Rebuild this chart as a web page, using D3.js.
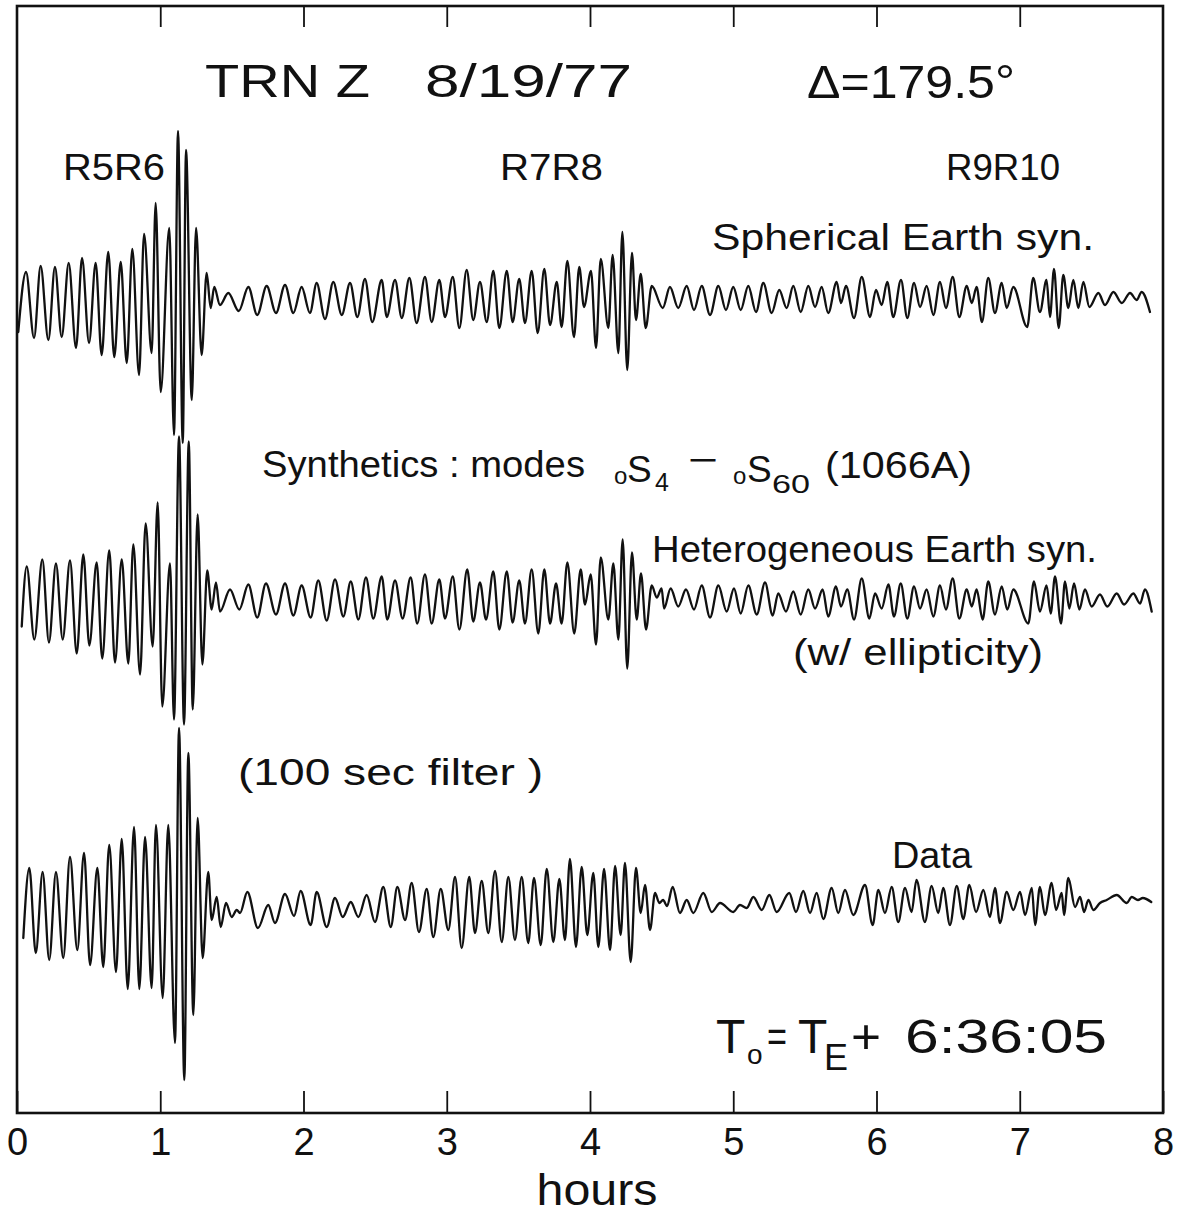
<!DOCTYPE html>
<html><head><meta charset="utf-8">
<script src="https://cdn.jsdelivr.net/npm/d3@7"></script>
<style>
body{margin:0;background:#fff}
svg{display:block}
text{font-family:"Liberation Sans",Arial,sans-serif;fill:#111}
</style>
</head><body>
<svg id="chart" width="1180" height="1213"></svg>
<script>
// ---------- data ----------
const hourTicks = [0,1,2,3,4,5,6,7,8];
const innerTicks = [1,2,3,4,5,6,7];
const traceNames = ["spherical","heterogeneous","data"];
const phaseLabels = ["R5R6","R7R8","R9R10"];

// [time (hours), relative amplitude] at successive extrema
const spherical = [
[0.009,-29],[0.063,31],[0.119,-35],[0.165,37],[0.219,-37],[0.265,36],[0.312,-34],[0.361,40],[0.412,-45],[0.454,45],
[0.503,-40],[0.549,40],[0.591,-52],[0.637,51],[0.679,-54],[0.724,41],[0.766,-60],[0.805,54],[0.852,-72],[0.887,69],
[0.940,-50],[0.968,100],[1.003,-89],[1.063,75],[1.096,-132],[1.124,172],[1.157,-140],[1.180,153],[1.220,-97],[1.250,75],
[1.289,-52],[1.324,30],[1.352,-5],[1.377,16],[1.417,-2],[1.475,10],[1.548,-8],[1.615,16],[1.677,-12],[1.743,17],
[1.808,-10],[1.871,18],[1.929,-10],[1.987,16],[2.045,-10],[2.092,20],[2.150,-16],[2.208,21],[2.267,-12],[2.325,20],
[2.376,-14],[2.429,24],[2.480,-19],[2.546,23],[2.581,-14],[2.639,23],[2.686,-15],[2.739,25],[2.790,-20],[2.848,26],
[2.895,-19],[2.948,23],[2.988,-14],[3.042,26],[3.088,-25],[3.139,33],[3.185,-17],[3.232,21],[3.279,-19],[3.325,32],
[3.367,-25],[3.419,32],[3.460,-19],[3.506,24],[3.546,-20],[3.593,32],[3.635,-30],[3.681,34],[3.721,-22],[3.768,21],
[3.802,-24],[3.842,42],[3.888,-34],[3.925,36],[3.958,-4],[4.007,32],[4.042,-45],[4.075,44],[4.128,-25],[4.158,48],
[4.198,-50],[4.226,71],[4.260,-67],[4.293,50],[4.321,-17],[4.354,29],[4.389,-25],[4.431,17],[4.508,-5],[4.558,16],
[4.616,-5],[4.675,17],[4.726,-7],[4.780,17],[4.838,-12],[4.896,17],[4.949,-7],[5.000,16],[5.052,-7],[5.105,17],
[5.159,-9],[5.210,20],[5.268,-10],[5.321,13],[5.373,-5],[5.419,17],[5.471,-9],[5.524,17],[5.571,-4],[5.617,16],
[5.663,-10],[5.722,21],[5.752,0],[5.787,17],[5.843,-15],[5.897,26],[5.955,-14],[5.996,13],[6.036,-2],[6.075,21],
[6.117,-14],[6.171,23],[6.215,-15],[6.262,20],[6.304,-4],[6.350,17],[6.397,-12],[6.443,21],[6.485,-5],[6.532,26],
[6.578,-14],[6.630,17],[6.665,0],[6.699,16],[6.736,-19],[6.780,25],[6.827,-10],[6.874,20],[6.909,-5],[6.955,16],
[7.052,-24],[7.094,25],[7.141,-9],[7.187,23],[7.211,-14],[7.239,34],[7.272,-25],[7.304,28],[7.339,-5],[7.374,23],
[7.409,-5],[7.444,21],[7.486,-4],[7.549,10],[7.595,-2],[7.654,11],[7.712,0],[7.770,10],[7.816,3],[7.851,11],[7.909,-9]
];

const heterogeneous = [
[0.033,-26],[0.068,34],[0.121,-39],[0.177,41],[0.223,-42],[0.272,37],[0.319,-39],[0.370,40],[0.417,-53],[0.463,46],
[0.505,-45],[0.556,38],[0.595,-58],[0.644,50],[0.684,-62],[0.731,41],[0.777,-63],[0.812,56],[0.859,-74],[0.898,77],
[0.947,-46],[0.982,98],[1.014,-106],[1.068,37],[1.096,-119],[1.131,164],[1.166,-124],[1.199,159],[1.227,-109],[1.261,86],
[1.294,-64],[1.328,30],[1.359,-9],[1.389,18],[1.417,-11],[1.487,11],[1.552,-9],[1.615,16],[1.677,-17],[1.738,17],
[1.808,-14],[1.871,17],[1.929,-15],[1.987,15],[2.050,-17],[2.103,20],[2.162,-20],[2.220,21],[2.278,-16],[2.330,19],
[2.383,-19],[2.436,23],[2.487,-18],[2.546,24],[2.585,-19],[2.639,20],[2.692,-18],[2.748,23],[2.794,-23],[2.848,26],
[2.895,-23],[2.948,21],[2.988,-18],[3.042,24],[3.088,-29],[3.143,31],[3.185,-21],[3.232,18],[3.274,-19],[3.325,29],
[3.367,-29],[3.419,29],[3.460,-22],[3.506,20],[3.546,-23],[3.593,31],[3.639,-33],[3.681,31],[3.721,-23],[3.763,17],
[3.802,-23],[3.842,38],[3.890,-33],[3.935,31],[3.965,-4],[4.005,26],[4.042,-44],[4.075,43],[4.128,-19],[4.163,37],
[4.198,-39],[4.228,61],[4.260,-68],[4.293,48],[4.326,-19],[4.356,27],[4.391,-29],[4.431,15],[4.466,3],[4.500,12],
[4.517,-8],[4.563,12],[4.616,-6],[4.670,11],[4.726,-9],[4.780,15],[4.838,-17],[4.896,15],[4.954,-11],[5.005,12],
[5.052,-13],[5.105,15],[5.164,-14],[5.222,18],[5.275,-15],[5.314,7],[5.368,-11],[5.419,9],[5.471,-14],[5.524,11],
[5.571,-8],[5.624,11],[5.663,-16],[5.717,14],[5.752,-6],[5.796,11],[5.843,-19],[5.897,22],[5.950,-18],[5.990,7],
[6.036,-8],[6.083,16],[6.122,-16],[6.169,17],[6.215,-18],[6.262,14],[6.304,-8],[6.350,11],[6.397,-16],[6.443,15],
[6.485,-9],[6.532,22],[6.578,-18],[6.630,11],[6.665,-6],[6.699,11],[6.741,-19],[6.780,19],[6.827,-14],[6.874,14],
[6.913,-9],[6.955,11],[7.060,-23],[7.099,19],[7.141,-11],[7.187,15],[7.216,-13],[7.246,24],[7.288,-23],[7.316,19],
[7.346,-8],[7.379,17],[7.416,-9],[7.455,11],[7.502,-6],[7.560,6],[7.611,-6],[7.677,7],[7.728,-4],[7.793,7],
[7.840,-3],[7.874,11],[7.921,-11]
];

const observed = [
[0.044,-40],[0.086,30],[0.131,-55],[0.179,26],[0.225,-62],[0.272,26],[0.323,-60],[0.370,41],[0.421,-52],[0.468,45],
[0.510,-67],[0.561,30],[0.602,-69],[0.644,53],[0.691,-74],[0.731,59],[0.773,-91],[0.817,71],[0.854,-91],[0.894,61],
[0.940,-90],[0.970,73],[1.017,-100],[1.056,73],[1.103,-145],[1.131,170],[1.168,-182],[1.196,145],[1.231,-117],[1.261,80],
[1.296,-60],[1.335,26],[1.359,-22],[1.394,1],[1.422,-29],[1.459,-5],[1.499,-19],[1.534,-12],[1.557,-15],[1.608,6],
[1.682,-30],[1.754,-7],[1.801,-25],[1.871,4],[1.934,-18],[1.980,7],[2.050,-27],[2.092,6],[2.162,-29],[2.220,0],
[2.274,-19],[2.330,-4],[2.383,-19],[2.441,3],[2.499,-24],[2.557,11],[2.609,-29],[2.655,11],[2.709,-22],[2.755,15],
[2.806,-34],[2.860,9],[2.906,-39],[2.958,9],[3.011,-32],[3.058,21],[3.104,-50],[3.157,21],[3.197,-35],[3.244,17],
[3.290,-35],[3.337,27],[3.384,-44],[3.430,21],[3.476,-42],[3.523,21],[3.569,-45],[3.609,20],[3.656,-47],[3.698,29],
[3.744,-44],[3.786,19],[3.825,-42],[3.860,39],[3.902,-49],[3.942,31],[3.981,-37],[4.023,25],[4.058,-49],[4.098,29],
[4.140,-52],[4.175,32],[4.214,-37],[4.244,35],[4.284,-64],[4.321,30],[4.354,-15],[4.384,13],[4.419,-32],[4.454,5],
[4.484,-5],[4.510,-2],[4.538,-8],[4.577,11],[4.628,-15],[4.675,-2],[4.721,-15],[4.791,5],[4.850,-14],[4.908,-5],
[5.000,-14],[5.047,-7],[5.094,-10],[5.140,1],[5.199,-12],[5.252,3],[5.303,-14],[5.391,5],[5.438,-14],[5.489,7],
[5.536,-15],[5.582,5],[5.629,-21],[5.687,10],[5.733,-15],[5.780,8],[5.838,-17],[5.920,13],[5.973,-27],[6.013,8],
[6.059,-15],[6.106,11],[6.152,-24],[6.199,10],[6.245,-14],[6.279,18],[6.338,-24],[6.385,12],[6.431,-15],[6.466,10],
[6.513,-27],[6.560,12],[6.606,-21],[6.648,13],[6.695,-14],[6.746,8],[6.792,-19],[6.827,10],[6.862,-25],[6.909,6],
[6.955,-12],[7.002,6],[7.037,-17],[7.084,10],[7.107,-27],[7.141,11],[7.176,-17],[7.223,15],[7.253,-12],[7.293,5],
[7.309,-17],[7.339,20],[7.386,-9],[7.421,1],[7.449,-14],[7.479,-2],[7.514,-12],[7.560,-5],[7.607,-2],[7.677,3],
[7.747,-5],[7.782,1],[7.825,-2],[7.859,0],[7.918,-4]
];

const traces = {spherical, heterogeneous, data: observed};

// ---------- drawing ----------
const svg = d3.select("#chart");
svg.append("rect").attr("width",1180).attr("height",1213).attr("fill","#fff");

const L = 17, R = 1163, T = 6, B = 1113;
const x = d3.scaleLinear().domain([0,8]).range([L,R]);
const row = d3.scalePoint().domain(traceNames).range([303,898]);
const amp = d3.scaleLinear().domain([-100,100]).range([100,-100]);

// frame
svg.append("rect").attr("x",L).attr("y",T).attr("width",R-L).attr("height",B-T)
  .attr("fill","none").attr("stroke","#111").attr("stroke-width",2.6);

// bottom axis (ticks inward, labels below)
const gx = svg.append("g").attr("transform",`translate(0,${B})`)
  .call(d3.axisBottom(x).tickValues(hourTicks).tickSizeInner(-22).tickSizeOuter(0).tickPadding(15).tickFormat(d3.format("d")));
gx.select(".domain").remove();
gx.selectAll("line").attr("stroke","#111").attr("stroke-width",1.8);
gx.selectAll("text").attr("font-size",38).attr("fill","#111").style("font-family","'Liberation Sans',Arial,sans-serif");

// top axis ticks
const gt = svg.append("g").attr("transform",`translate(0,${T})`)
  .call(d3.axisTop(x).tickValues(innerTicks).tickSizeInner(-21).tickSizeOuter(0).tickFormat(""));
gt.select(".domain").remove();
gt.selectAll("line").attr("stroke","#111").attr("stroke-width",1.8);

// traces
const line = d3.line().curve(d3.curveMonotoneX);
traceNames.forEach(name => {
  const base = row(name);
  line.x(d => x(d[0])).y(d => base + amp(d[1]));
  svg.append("path").datum(traces[name]).attr("d", line)
    .attr("fill","none").attr("stroke","#111").attr("stroke-width",2.3)
    .attr("stroke-linejoin","round").attr("stroke-linecap","round");
});

// text helper
function label(txt, px, py, size, len, anchor){
  const t = svg.append("text").attr("x",px).attr("y",py).attr("font-size",size).text(txt);
  if (len) t.attr("textLength",len).attr("lengthAdjust","spacingAndGlyphs");
  if (anchor) t.attr("text-anchor",anchor);
  return t;
}

label("hours", 597, 1205, 44, 121, "middle");

// title
label("TRN Z", 205, 97, 47, 165);
label("8/19/77", 425, 97, 47, 207);
label("Δ=179.5°", 807, 98, 47, 208);

// phase labels
label(phaseLabels[0], 63, 180, 36, 102);
label(phaseLabels[1], 500, 180, 36, 103);
label(phaseLabels[2], 946, 180, 36, 114);

// trace annotations
label("Spherical  Earth  syn.", 712, 250, 36, 382);
label("Synthetics : modes", 262, 477, 36, 323);
label("o", 614, 484, 24);
label("S", 627, 482, 37);
label("4", 655, 491, 25);
label("−", 688, 472, 36, 30);
label("o", 733, 484, 24);
label("S", 747, 482, 37);
label("60", 772, 493, 25, 38);
label("(1066A)", 825, 478, 36, 147);
label("Heterogeneous  Earth  syn.", 652, 562, 36, 445);
label("(w/  ellipticity)", 793, 665, 36, 250);
label("(100  sec  filter )", 238, 785, 36, 305);
label("Data", 892, 868, 36, 80);

// origin time
label("T", 716, 1053, 48);
label("o", 747, 1064, 28);
label("=", 767, 1052, 44, 20);
label("T", 798, 1053, 48);
label("E", 824, 1070, 36);
label("+", 851, 1053, 48, 30);
label("6:36:05", 905, 1053, 48, 202);
</script>
</body></html>
